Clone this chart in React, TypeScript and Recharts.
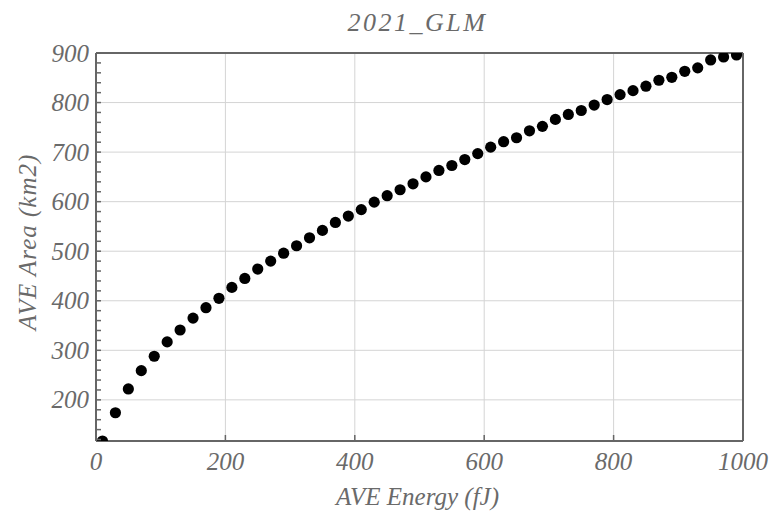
import React from 'react';
import { ScatterChart, Scatter, XAxis, YAxis, ReferenceLine } from 'recharts';

const energyValues = [10, 30, 50, 70, 90, 110, 130, 150, 170, 190, 210, 230, 250, 270, 290, 310, 330, 350, 370, 390, 410, 430, 450, 470, 490, 510, 530, 550, 570, 590, 610, 630, 650, 670, 690, 710, 730, 750, 770, 790, 810, 830, 850, 870, 890, 910, 930, 950, 970, 990];
const areaValues = [117, 174, 222, 259, 288, 317, 341, 365, 386, 405, 427, 445, 464, 480, 496, 511, 527, 542, 558, 571, 584, 599, 612, 624, 636, 650, 663, 673, 685, 697, 710, 721, 729, 743, 752, 766, 776, 784, 795, 806, 816, 824, 833, 845, 851, 863, 870, 886, 892, 896];
const xTicks = [0, 200, 400, 600, 800, 1000];
const yTicks = [120, 140, 160, 180, 200, 220, 240, 260, 280, 300, 320, 340, 360, 380, 400, 420, 440, 460, 480, 500, 520, 540, 560, 580, 600, 620, 640, 660, 680, 700, 720, 740, 760, 780, 800, 820, 840, 860, 880, 900];
const yGrid = [200, 300, 400, 500, 600, 700, 800];
const xGrid = [200, 400, 600, 800];

const data = energyValues.map((x, i) => ({ x, y: areaValues[i] }));

const W = 771;
const H = 513;
const PLOT_LEFT = 96;
const PLOT_BOTTOM = 441;
const AXIS_COLOR = '#666666';
const TEXT_COLOR = '#6a6a6a';
const FONT = '"Liberation Serif", "DejaVu Serif", serif';
const FS = 25;

const YTick = (props: any) => {
  const { y, payload } = props;
  const v = payload.value;
  return (
    <g>
      <line x1={PLOT_LEFT} x2={PLOT_LEFT + 5} y1={y} y2={y} stroke={AXIS_COLOR} strokeWidth={1.5} />
      {v % 100 === 0 ? (
        <text x={89} y={y + 8.5} textAnchor="end" fontFamily={FONT} fontStyle="italic" fontSize={FS} fill={TEXT_COLOR}>
          {v}
        </text>
      ) : null}
    </g>
  );
};

const XTick = (props: any) => {
  const { x, payload } = props;
  const v = payload.value;
  return (
    <g>
      {v > 0 && v < 1000 ? (
        <line x1={x} x2={x} y1={PLOT_BOTTOM} y2={PLOT_BOTTOM - 6} stroke={AXIS_COLOR} strokeWidth={1.5} />
      ) : null}
      <text x={x} y={470} textAnchor="middle" fontFamily={FONT} fontStyle="italic" fontSize={FS} fill={TEXT_COLOR}>
        {v}
      </text>
    </g>
  );
};

const Dot = (props: any) => {
  const { cx, cy } = props;
  return <circle cx={cx} cy={cy} r={5.6} fill="#000" />;
};

export default function App() {
  return (
    <div style={{ position: 'absolute', left: 0, top: 0, width: W, height: H, background: '#fff' }}>
      <div
        style={{
          position: 'absolute',
          left: 0,
          top: 10,
          width: 835,
          textAlign: 'center',
          fontFamily: FONT,
          fontStyle: 'italic',
          fontSize: 26,
          letterSpacing: 2.5,
          color: TEXT_COLOR,
          lineHeight: '26px',
          whiteSpace: 'nowrap',
        }}
      >
        2021_GLM
      </div>
      <ScatterChart width={W} height={H} margin={{ top: 53, right: 28, bottom: 42, left: 36 }}>
        {yGrid.map((v) => (
          <ReferenceLine key={'gy' + v} y={v} stroke="#d4d4d4" strokeWidth={1} />
        ))}
        {xGrid.map((v) => (
          <ReferenceLine key={'gx' + v} x={v} stroke="#d4d4d4" strokeWidth={1} />
        ))}
        <XAxis
          type="number"
          dataKey="x"
          domain={[0, 1000]}
          ticks={xTicks}
          allowDataOverflow
          height={30}
          tickLine={false}
          axisLine={{ stroke: AXIS_COLOR, strokeWidth: 2 }}
          tick={<XTick />}
          interval={0}
          label={{
            content: () => (
              <text x={417.5} y={505} textAnchor="middle" fontFamily={FONT} fontStyle="italic" fontSize={FS} fill={TEXT_COLOR}>
                AVE Energy (fJ)
              </text>
            ),
          }}
        />
        <YAxis
          type="number"
          dataKey="y"
          domain={[117, 900]}
          ticks={yTicks}
          allowDataOverflow
          width={60}
          tickLine={false}
          axisLine={{ stroke: AXIS_COLOR, strokeWidth: 2 }}
          tick={<YTick />}
          interval={0}
          label={{
            content: () => (
              <text
                x={36}
                y={242}
                transform="rotate(-90 36 242)"
                textAnchor="middle"
                fontFamily={FONT}
                fontStyle="italic"
                fontSize={FS}
                letterSpacing={1}
                fill={TEXT_COLOR}
              >
                AVE Area (km2)
              </text>
            ),
          }}
        />
        <ReferenceLine y={900} stroke={AXIS_COLOR} strokeWidth={2} />
        <ReferenceLine x={1000} stroke={AXIS_COLOR} strokeWidth={2} />
        <Scatter data={data} fill="#000" shape={<Dot />} isAnimationActive={false} />
      </ScatterChart>
    </div>
  );
}
